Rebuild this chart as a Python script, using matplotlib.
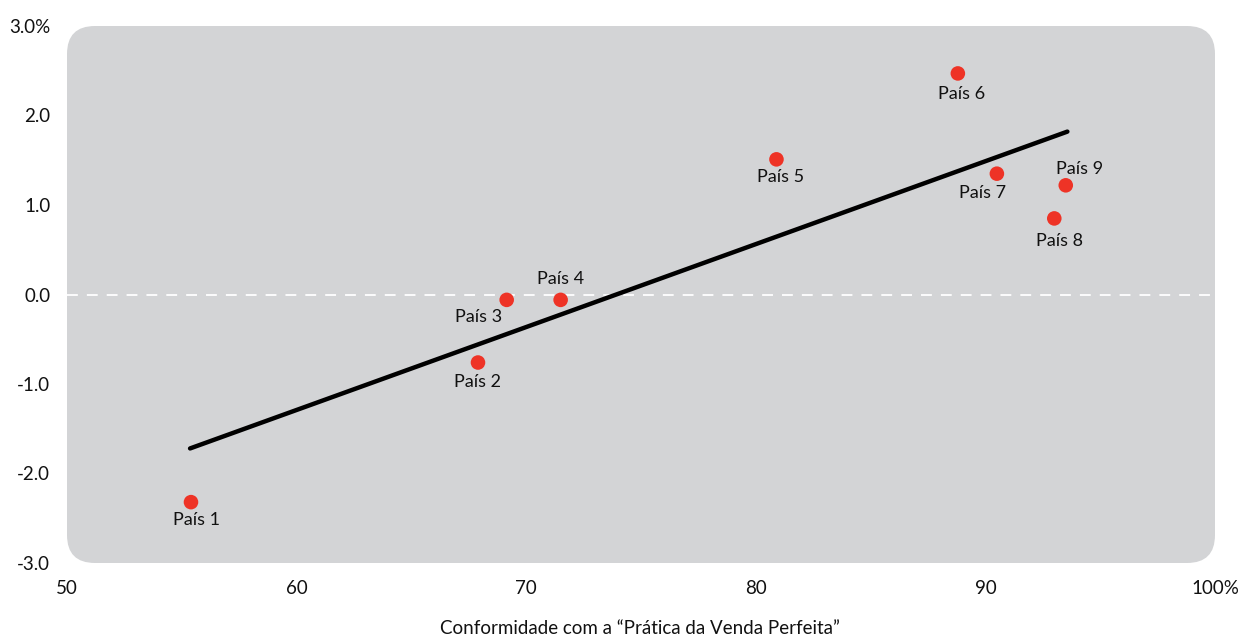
import matplotlib
matplotlib.use("Agg")
import matplotlib.pyplot as plt
from matplotlib.patches import FancyBboxPatch

countries = ["País 1", "País 2", "País 3", "País 4", "País 5", "País 6", "País 7", "País 8", "País 9"]
conformity = [55.4, 67.9, 69.15, 71.5, 80.9, 88.8, 90.5, 93.0, 93.5]
growth = [-2.32, -0.76, -0.06, -0.06, 1.51, 2.47, 1.35, 0.85, 1.22]
trend_x = [55.36, 93.57]
trend_y = [-1.72, 1.82]
x_ticks = [50, 60, 70, 80, 90, 100]
x_tick_labels = ["50", "60", "70", "80", "90", "100%"]
y_ticks = [-3, -2, -1, 0, 1, 2, 3]
y_tick_labels = ["-3.0", "-2.0", "-1.0", "0.0", "1.0", "2.0", "3.0%"]
x_label = "Conformidade com a \u201cPrática da Venda Perfeita\u201d"

# label offsets in points (dx, dy)
label_offsets = [(4, -13), (0, -14), (-20, -12), (0, 15), (3, -13), (3, -15), (-10, -14), (4, -16), (10, 12)]

plt.rcParams['font.family'] = ['Lato', 'DejaVu Sans']

W, H = 1244, 637
fig = plt.figure(figsize=(W / 100, H / 100), dpi=100)
left, right, top, bottom = 67, 1215, 26, 563
ax = fig.add_axes([left / W, (H - bottom) / H, (right - left) / W, (bottom - top) / H])
ax.set_xlim(50, 100)
ax.set_ylim(-3, 3)
ax.patch.set_visible(False)
for s in ax.spines.values():
    s.set_visible(False)

aw, ah = right - left, bottom - top
r = 28
box = FancyBboxPatch((0, 0), 1, 1, boxstyle=f"round,pad=0,rounding_size={r / aw}",
                     transform=ax.transAxes, mutation_aspect=aw / ah,
                     facecolor="#d3d4d6", edgecolor="none", zorder=0)
ax.add_patch(box)

ax.axhline(0, color="white", lw=1.3, dashes=(6, 5), zorder=1)
ax.plot(trend_x, trend_y, color="black", lw=3.2, solid_capstyle="round", zorder=2)
ax.scatter(conformity, growth, s=110, color="#ee3326", edgecolor="none", zorder=3)

for name, x, y, (dx, dy) in zip(countries, conformity, growth, label_offsets):
    ax.annotate(name, (x, y), xytext=(dx, dy), textcoords="offset points",
                ha="center", va="center", fontsize=13, color="#111111", zorder=4)

ax.set_xticks(x_ticks)
ax.set_xticklabels(x_tick_labels)
ax.set_yticks(y_ticks)
ax.set_yticklabels(y_tick_labels)
ax.tick_params(length=0, labelsize=13.5, colors="#111111")
ax.tick_params(axis="x", pad=12)
ax.tick_params(axis="y", pad=12)
fig.text(640 / W, 1 - 628 / H, x_label, ha="center", va="center", fontsize=13.5, color="#111111")

fig.savefig("out.png", dpi=100)
